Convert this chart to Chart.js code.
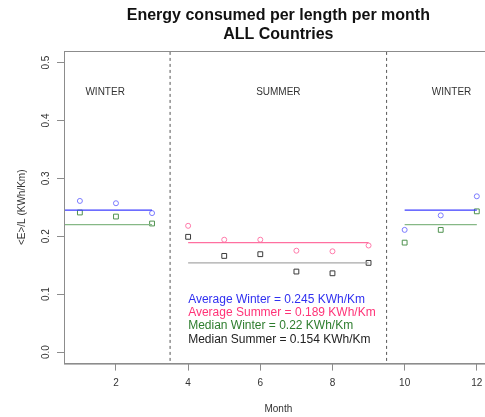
<!DOCTYPE html>
<html lang="en">
<head>
    <meta charset="UTF-8">
    <title>Energy consumed per length per month</title>
    <script src="https://cdn.jsdelivr.net/npm/chart.js"></script>
    <style>
        * { margin: 0; padding: 0; box-sizing: border-box; }
        body { background: #fff; width: 485px; height: 417px; overflow: hidden; }
        canvas { display: block; }
    </style>
</head>
<body>
    <canvas id="energyChart" width="500" height="417"></canvas>
    <script>
        // values
        const winterMonths = [1, 2, 3, 10, 11, 12];
        const summerMonths = [4, 5, 6, 7, 8, 9];
        const winterAverage = [0.261, 0.257, 0.240, 0.211, 0.236, 0.269];
        const winterMedian = [0.241, 0.234, 0.222, 0.189, 0.211, 0.243];
        const summerAverage = [0.218, 0.194, 0.194, 0.175, 0.174, 0.184];
        const summerMedian = [0.199, 0.166, 0.169, 0.139, 0.136, 0.154];
        const overallWinterAvg = 0.245;
        const overallSummerAvg = 0.189;
        const overallWinterMed = 0.22;
        const overallSummerMed = 0.154;
        const xTicks = [2, 4, 6, 8, 10, 12];
        const yTicks = [0, 0.1, 0.2, 0.3, 0.4, 0.5];
        const seasonBreaks = [3.5, 9.5];
        const seasonNames = ["WINTER", "SUMMER", "WINTER"];
        const seasonAt = [1.7, 6.5, 11.3];
        const noteLines = [
            "Average Winter = 0.245 KWh/Km",
            "Average Summer = 0.189 KWh/Km",
            "Median Winter = 0.22 KWh/Km",
            "Median Summer = 0.154 KWh/Km"
        ];
        const noteColors = ["#3030f0", "#ff3377", "#2e7d2e", "#222222"];

        const FONT = "'Liberation Sans', Arial, sans-serif";
        const pts = (xs, ys) => xs.map((x, i) => ({ x: x, y: ys[i] }));
        const seg = (x0, x1, y) => [{ x: x0, y: y }, { x: x1, y: y }];

        function lineSet(data, color, dash) {
            return {
                type: "line", data: data, borderColor: color, borderWidth: 1.3,
                borderDash: dash || [], pointRadius: 0, fill: false, showLine: true
            };
        }
        function pointSet(data, color, style, r) {
            return {
                type: "scatter", data: data, borderColor: color, backgroundColor: "rgba(0,0,0,0)",
                borderWidth: 1, pointStyle: style, pointRadius: r, pointHoverRadius: r
            };
        }

        const datasets = [
            lineSet(seg(0, 3, overallWinterAvg), "#3c3cff"),
            lineSet(seg(10, 12, overallWinterAvg), "#3c3cff"),
            lineSet(seg(0, 3, overallWinterMed), "#86b886"),
            lineSet(seg(10, 12, overallWinterMed), "#86b886"),
            lineSet(seg(4, 9, overallSummerAvg), "#ff6fa0"),
            lineSet(seg(4, 9, overallSummerMed), "#a8a8a8"),
            lineSet([{ x: seasonBreaks[0], y: -1 }, { x: seasonBreaks[0], y: 1 }], "#555555", [3, 3]),
            lineSet([{ x: seasonBreaks[1], y: -1 }, { x: seasonBreaks[1], y: 1 }], "#555555", [3, 3]),
            pointSet(pts(winterMonths, winterAverage), "#7a7aff", "circle", 2.5),
            pointSet(pts(winterMonths, winterMedian), "#4f924f", "rect", 3.4),
            pointSet(pts(summerMonths, summerAverage), "#ff7aaa", "circle", 2.5),
            pointSet(pts(summerMonths, summerMedian), "#3a3a3a", "rect", 3.4)
        ];
        datasets[6].borderWidth = 1; datasets[7].borderWidth = 1;

        const annotations = {
            id: "annotations",
            afterDatasetsDraw(chart) {
                const { ctx, chartArea, scales: { x, y } } = chart;
                ctx.save();
                // plot box
                ctx.strokeStyle = "#8c8c8c";
                ctx.lineWidth = 1;
                ctx.strokeRect(Math.round(chartArea.left) + 0.5, Math.round(chartArea.top) + 0.5,
                    chartArea.right - chartArea.left, chartArea.bottom - chartArea.top);
                ctx.textBaseline = "middle";
                ctx.textAlign = "center";
                ctx.fillStyle = "#333";
                ctx.font = "10px " + FONT;
                seasonNames.forEach((s, i) => ctx.fillText(s, x.getPixelForValue(seasonAt[i]), y.getPixelForValue(0.448)));
                ctx.textAlign = "left";
                ctx.font = "12px " + FONT;
                const rows = [0.091, 0.068, 0.045, 0.021];
                noteLines.forEach((t, i) => {
                    ctx.fillStyle = noteColors[i];
                    ctx.fillText(t, x.getPixelForValue(4), y.getPixelForValue(rows[i]));
                });
                ctx.restore();
            }
        };

        new Chart(document.getElementById("energyChart"), {
            type: "scatter",
            data: { datasets: datasets },
            plugins: [annotations],
            options: {
                responsive: false,
                animation: false,
                devicePixelRatio: 1,
                layout: { padding: { left: 0, right: 7.3, top: 0, bottom: 0 } },
                plugins: {
                    legend: { display: false },
                    tooltip: { enabled: false },
                    title: {
                        display: true,
                        fullSize: false,
                        text: ["Energy consumed per length per month", "ALL Countries"],
                        color: "#111",
                        font: { family: FONT, size: 16, weight: "bold", lineHeight: 19 / 16 },
                        padding: { top: 6.5, bottom: 6.5 }
                    }
                },
                scales: {
                    x: {
                        type: "linear", min: 0.56, max: 12.44,
                        afterBuildTicks: s => { s.ticks = xTicks.map(v => ({ value: v })); },
                        afterFit: s => { s.height = 53.4; },
                        grid: { display: true, drawOnChartArea: false, drawTicks: true, tickLength: 7, color: "#8c8c8c" },
                        border: { display: true, color: "#8c8c8c" },
                        ticks: { color: "#333", font: { family: FONT, size: 10 }, padding: 6.5, maxRotation: 0 },
                        title: { display: true, text: "Month", color: "#333", font: { family: FONT, size: 10 }, padding: { top: 0, bottom: 2 } }
                    },
                    y: {
                        type: "linear", min: -0.02, max: 0.52,
                        afterBuildTicks: s => { s.ticks = yTicks.map(v => ({ value: v })); },
                        afterFit: s => { s.width = 64; },
                        grid: { display: true, drawOnChartArea: false, drawTicks: true, tickLength: 7, color: "#8c8c8c" },
                        border: { display: true, color: "#8c8c8c" },
                        ticks: {
                            color: "#333", font: { family: FONT, size: 10 }, padding: 4,
                            minRotation: 90, maxRotation: 90, crossAlign: "center",
                            callback: v => v.toFixed(1)
                        },
                        title: { display: true, text: "<E>/L (KWh/Km)", color: "#333", font: { family: FONT, size: 10 }, padding: { top: 16, bottom: 0 } }
                    }
                }
            }
        });
    </script>
</body>
</html>
